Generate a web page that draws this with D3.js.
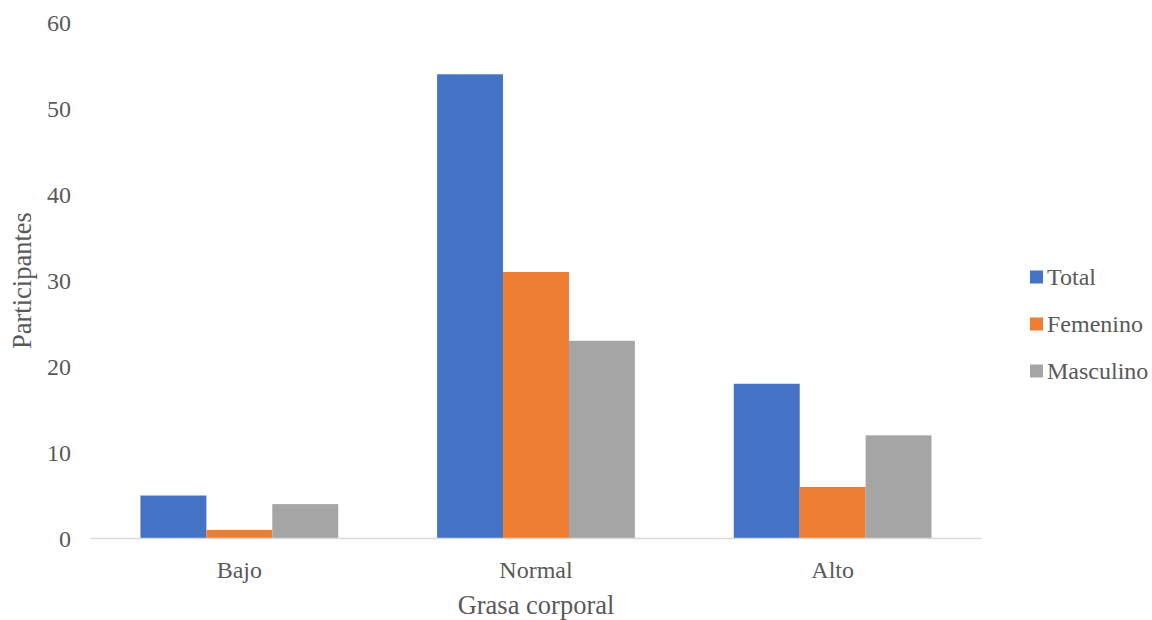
<!DOCTYPE html>
<html>
<head>
<meta charset="utf-8">
<script src="https://cdn.jsdelivr.net/npm/d3@7"></script>
<style>
  html, body { margin: 0; padding: 0; background: #fff; }
  svg { display: block; }
</style>
</head>
<body>
<svg id="chart" width="1152" height="620"></svg>
<script>
// Body-fat categories and participant counts per group
const categories = ["Bajo", "Normal", "Alto"];
const seriesNames = ["Total", "Femenino", "Masculino"];
const total = [5, 54, 18];
const femenino = [1, 31, 6];
const masculino = [4, 23, 12];
const yTicks = [0, 10, 20, 30, 40, 50, 60];
const colors = ["#4472C4", "#ED7D31", "#A5A5A5"];

const seriesValues = [total, femenino, masculino];

const svg = d3.select("#chart")
  .attr("font-family", "'Times New Roman', 'Liberation Serif', Times, serif")
  .style("font-family", "'Times New Roman', 'Liberation Serif', Times, serif");
const plot = { left: 91, right: 981, top: 22.7, bottom: 538.5 };
const fontSize = 24;
const titleSize = 26.5;
const textColor = "#595959";

const x = d3.scaleBand().domain(categories).range([plot.left, plot.right]).padding(0);
// Gap between groups equals 1.5 bar widths
const barW = x.bandwidth() / (seriesNames.length + 1.5);
const gap = barW * 1.5;
const xs = d3.scaleBand().domain(seriesNames).range([gap / 2, x.bandwidth() - gap / 2]).padding(0);

const y = d3.scaleLinear().domain([0, 60]).range([plot.bottom, plot.top]);

// Bars
const groups = svg.append("g").selectAll("g")
  .data(categories)
  .join("g")
  .attr("transform", d => `translate(${x(d)},0)`);

groups.selectAll("rect")
  .data((c, i) => seriesNames.map((s, k) => ({ s, k, v: seriesValues[k][i] })))
  .join("rect")
  .attr("x", d => xs(d.s))
  .attr("width", xs.bandwidth())
  .attr("y", d => y(d.v))
  .attr("height", d => y(0) - y(d.v))
  .attr("fill", d => colors[d.k]);

// Category axis line
svg.append("line")
  .attr("x1", plot.left).attr("x2", plot.right)
  .attr("y1", y(0)).attr("y2", y(0))
  .attr("stroke", "#d9d9d9").attr("stroke-width", 1.5);

// Y tick labels
svg.append("g").selectAll("text")
  .data(yTicks)
  .join("text")
  .attr("x", 71)
  .attr("y", d => y(d))
  .attr("dy", "0.35em")
  .attr("text-anchor", "end")
  .attr("font-size", fontSize)
  .attr("fill", textColor)
  .text(d => d);

// Category labels
svg.append("g").selectAll("text")
  .data(categories)
  .join("text")
  .attr("x", d => x(d) + x.bandwidth() / 2)
  .attr("y", 578)
  .attr("text-anchor", "middle")
  .attr("font-size", fontSize)
  .attr("fill", textColor)
  .text(d => d);

// Axis titles
svg.append("text")
  .attr("x", (plot.left + plot.right) / 2)
  .attr("y", 614)
  .attr("text-anchor", "middle")
  .attr("font-size", titleSize)
  .attr("fill", textColor)
  .text("Grasa corporal");

svg.append("text")
  .attr("transform", `translate(31,${(plot.top + plot.bottom) / 2}) rotate(-90)`)
  .attr("text-anchor", "middle")
  .attr("font-size", titleSize)
  .attr("fill", textColor)
  .text("Participantes");

// Legend
const legend = svg.append("g").selectAll("g")
  .data(seriesNames)
  .join("g")
  .attr("transform", (d, i) => `translate(1030,${277 + i * 47})`);

legend.append("rect")
  .attr("x", 0).attr("y", -6.5)
  .attr("width", 13).attr("height", 13)
  .attr("fill", (d, i) => colors[i]);

legend.append("text")
  .attr("x", 17).attr("y", 0)
  .attr("dy", "0.35em")
  .attr("font-size", fontSize)
  .attr("fill", textColor)
  .text(d => d);
</script>
</body>
</html>
